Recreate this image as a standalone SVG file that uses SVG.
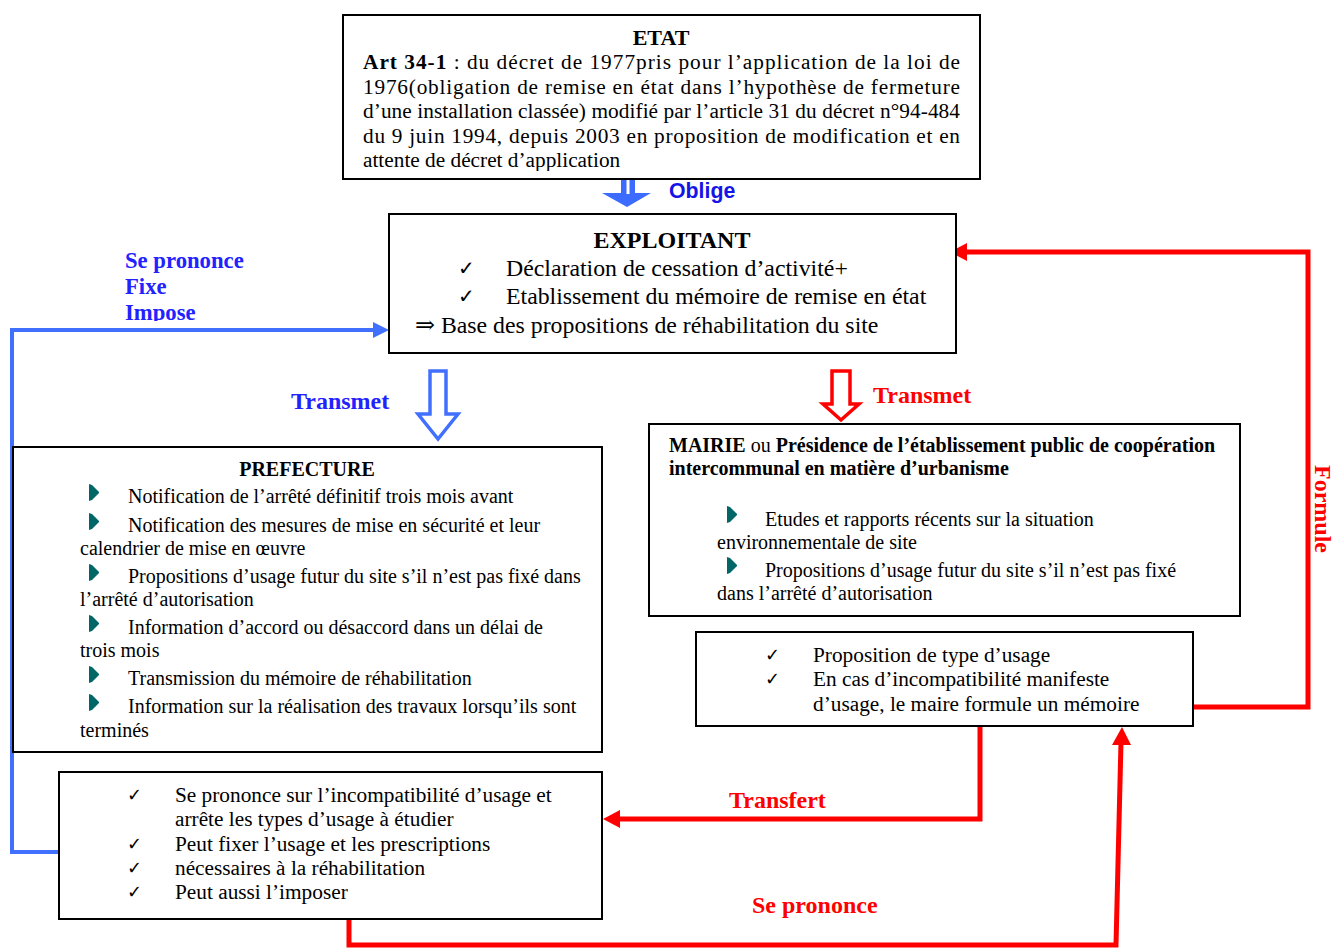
<svg xmlns="http://www.w3.org/2000/svg" width="1335" height="948" viewBox="0 0 1335 948">
<style>
.box{fill:#fff;stroke:#000;stroke-width:2}
.t{font-family:"Liberation Serif","DejaVu Serif",serif;fill:#000}
.b{font-weight:bold}
.chk{font-family:"DejaVu Sans",sans-serif;fill:#000}
.bl{fill:#2222ff;font-family:"Liberation Serif",serif;font-weight:bold}
.rd{fill:#ff0000;font-family:"Liberation Serif",serif;font-weight:bold}
.lb{fill:none;stroke:#4170ff;stroke-width:4}
.lr{fill:none;stroke:#ff0000;stroke-width:5}
</style>
<defs>
<path id="bul" d="M0,0 L3,1 L10,8 L10,9 L3,16 L0,17 Z" fill="#006666"/>
<clipPath id="cEtat"><rect x="342" y="14" width="638" height="157"/></clipPath>
<clipPath id="cImp"><rect x="100" y="240" width="200" height="81"/></clipPath>
</defs>
<rect width="1335" height="948" fill="#fff"/>

<g id="connectors">
  <path class="lb" d="M59,852 H12 V330 H374"/>
  <polygon points="373,322 389,330 373,338" fill="#4170ff"/>
  <path class="lr" d="M1194,707 H1308 V252 H965"/>
  <polygon points="967,243 950,252 967,261" fill="#ff0000"/>
  <path class="lr" d="M980,726 V819 H619"/>
  <polygon points="620,810 603,819 620,828" fill="#ff0000"/>
  <path class="lr" d="M349,919 V945 H1116 L1121,742"/>
  <polygon points="1112,745 1122,727 1131,745" fill="#ff0000"/>
  <polygon points="621,179 635,179 635,193 651,193 627,207 602,193 621,193" fill="#3c6cff"/>
  <rect x="626.5" y="180" width="3" height="14" fill="#fff"/>
  <text x="669" y="198" style="font-family:'Liberation Sans',Arial,sans-serif;font-weight:bold;font-size:21.3px;fill:#1414e6">Oblige</text>
  <polygon points="430,371 446,371 446,414 458,414 438,439 418,414 430,414" fill="#fff" stroke="#4170ff" stroke-width="3.5"/>
  <text class="bl" x="291" y="409" font-size="24">Transmet</text>
  <polygon points="832,371 850,371 850,404 859,404 841,420 823,404 832,404" fill="#fff" stroke="#ff0000" stroke-width="3.5"/>
  <text class="rd" x="873" y="403" font-size="24">Transmet</text>
  <g class="bl" font-size="22.7">
    <text x="125" y="268">Se prononce</text>
    <text x="125" y="294">Fixe</text>
    <text x="125" y="320" clip-path="url(#cImp)">Impose</text>
  </g>
  <text class="rd" x="729" y="808" font-size="24">Transfert</text>
  <text class="rd" x="752" y="913" font-size="24">Se prononce</text>
  <text class="rd" transform="translate(1315,465) rotate(90)" font-size="24">Formule</text>
</g>

<g id="etat">
  <rect class="box" x="343" y="15" width="637" height="164"/>
  <text class="t b" x="661" y="45" font-size="22" text-anchor="middle">ETAT</text>
  <g clip-path="url(#cEtat)" class="t" font-size="21.3">
    <text x="363" y="69" textLength="597" lengthAdjust="spacing"><tspan class="b">Art 34-1</tspan> : du décret de 1977pris pour l’application de la loi de</text>
    <text x="363" y="94" textLength="597" lengthAdjust="spacing">1976(obligation de remise en état dans l’hypothèse de fermeture</text>
    <text x="363" y="118" textLength="597" lengthAdjust="spacing">d’une installation classée) modifié par l’article 31 du décret n°94-484</text>
    <text x="363" y="143" textLength="597" lengthAdjust="spacing">du 9 juin 1994, depuis 2003 en proposition de modification et en</text>
    <text x="363" y="167">attente de décret d’application</text>
  </g>
</g>

<g id="exploitant">
  <rect class="box" x="389" y="214" width="567" height="139"/>
  <text class="t b" x="672" y="248" font-size="24" text-anchor="middle">EXPLOITANT</text>
  <text class="chk" x="458" y="275" font-size="20">✓</text>
  <text class="chk" x="458" y="303" font-size="20">✓</text>
  <text class="t" x="506" y="276" font-size="23.8">Déclaration de cessation d’activité+</text>
  <text class="t" x="506" y="304" font-size="23.8">Etablissement du mémoire de remise en état</text>
  <text class="t" x="415" y="333" font-size="23.8">⇒ Base des propositions de réhabilitation du site</text>
</g>

<g id="prefecture">
  <rect class="box" x="13" y="447" width="589" height="305"/>
  <text class="t b" x="307" y="476" font-size="20" text-anchor="middle">PREFECTURE</text>
  <use href="#bul" x="89" y="484"/>
  <use href="#bul" x="89" y="513"/>
  <use href="#bul" x="89" y="564"/>
  <use href="#bul" x="89" y="615"/>
  <use href="#bul" x="89" y="666"/>
  <use href="#bul" x="89" y="694"/>
  <g class="t" font-size="20">
    <text x="128" y="503">Notification de l’arrêté définitif trois mois avant</text>
    <text x="128" y="532">Notification des mesures de mise en sécurité et leur</text>
    <text x="80" y="555">calendrier de mise en œuvre</text>
    <text x="128" y="583">Propositions d’usage futur du site s’il n’est pas fixé dans</text>
    <text x="80" y="606">l’arrêté d’autorisation</text>
    <text x="128" y="634">Information d’accord ou désaccord dans un délai de</text>
    <text x="80" y="657">trois mois</text>
    <text x="128" y="685">Transmission du mémoire de réhabilitation</text>
    <text x="128" y="713">Information sur la réalisation des travaux lorsqu’ils sont</text>
    <text x="80" y="737">terminés</text>
  </g>
</g>

<g id="mairie">
  <rect class="box" x="649" y="424" width="591" height="192"/>
  <g class="t" font-size="20">
    <text x="669" y="452"><tspan class="b">MAIRIE</tspan> ou <tspan class="b">Présidence de l’établissement public de coopération</tspan></text>
    <text class="b" x="669" y="475">intercommunal en matière d’urbanisme</text>
    <text x="765" y="526">Etudes et rapports récents sur la situation</text>
    <text x="717" y="549">environnementale de site</text>
    <text x="765" y="577">Propositions d’usage futur du  site s’il n’est pas fixé</text>
    <text x="717" y="600">dans l’arrêté d’autorisation</text>
  </g>
  <use href="#bul" x="727" y="506"/>
  <use href="#bul" x="727" y="557"/>
</g>

<g id="proposition">
  <rect class="box" x="696" y="632" width="497" height="94"/>
  <text class="chk" x="765" y="661" font-size="18">✓</text>
  <text class="chk" x="765" y="685" font-size="18">✓</text>
  <g class="t" font-size="21.3">
    <text x="813" y="662">Proposition de type d’usage</text>
    <text x="813" y="686">En cas d’incompatibilité manifeste</text>
    <text x="813" y="711">d’usage, le maire formule un mémoire</text>
  </g>
</g>

<g id="decision">
  <rect class="box" x="59" y="772" width="543" height="147"/>
  <g class="chk" font-size="18">
    <text x="127" y="801">✓</text>
    <text x="127" y="850">✓</text>
    <text x="127" y="874">✓</text>
    <text x="127" y="898">✓</text>
  </g>
  <g class="t" font-size="21.3">
    <text x="175" y="802">Se prononce sur l’incompatibilité d’usage et</text>
    <text x="175" y="826">arrête les types d’usage à étudier</text>
    <text x="175" y="851">Peut fixer l’usage et les prescriptions</text>
    <text x="175" y="875">nécessaires à la réhabilitation</text>
    <text x="175" y="899">Peut aussi l’imposer</text>
  </g>
</g>
</svg>
